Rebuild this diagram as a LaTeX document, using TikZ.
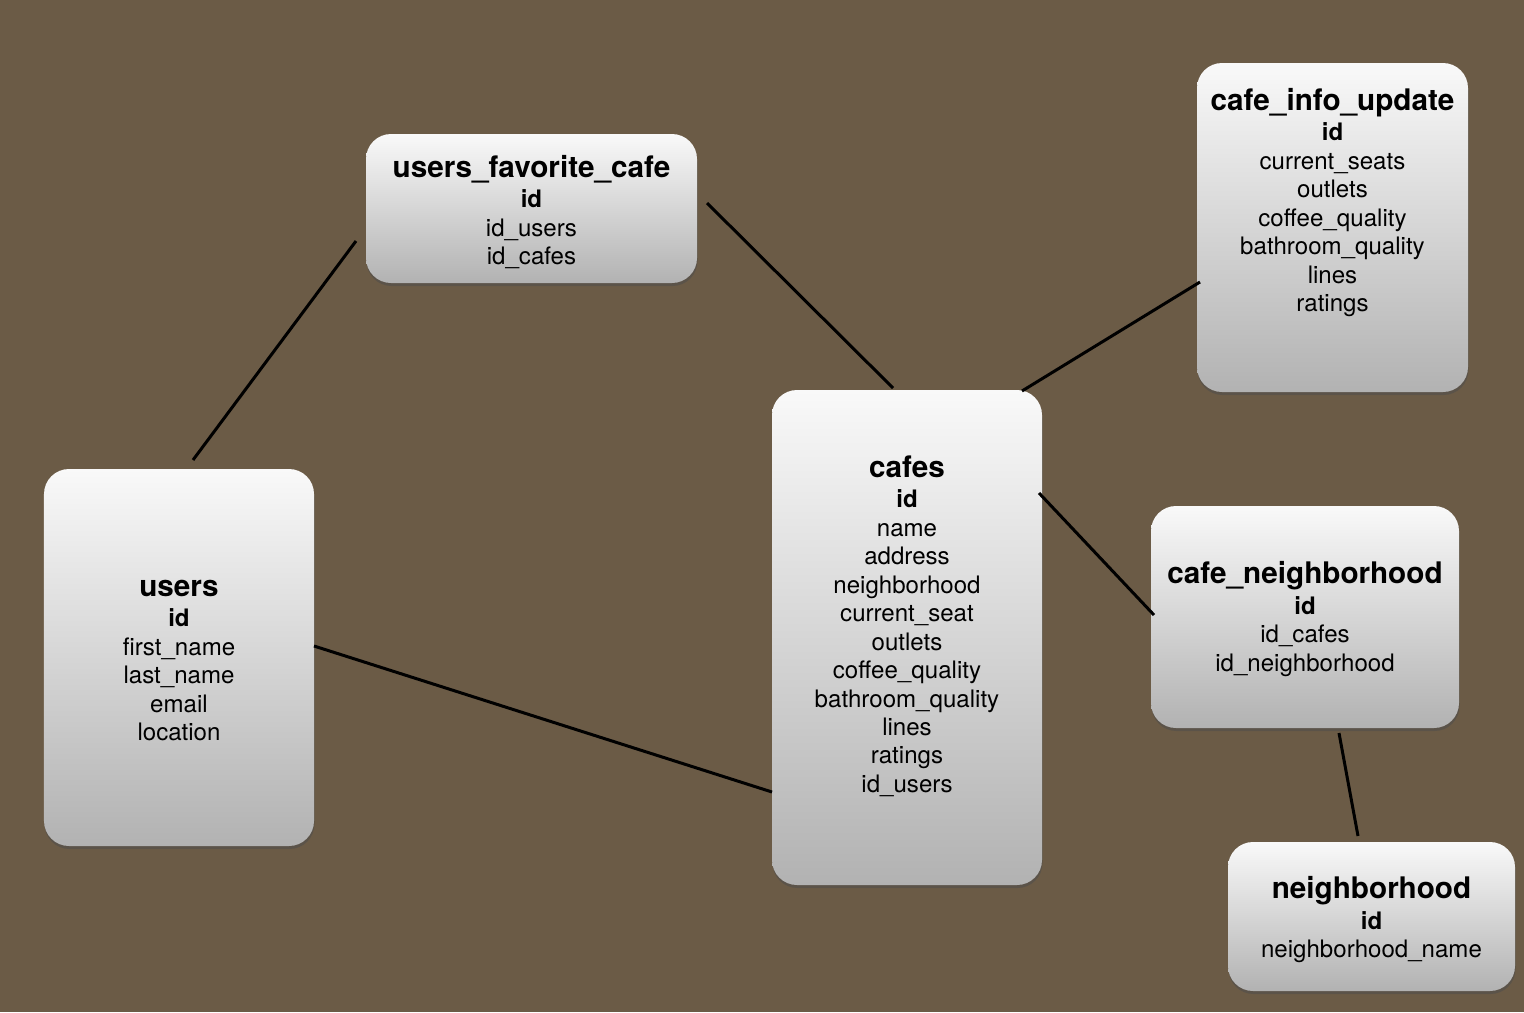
\documentclass[tikz,border=0pt]{standalone}
\usepackage{fontspec}
\setmainfont{TeX Gyre Heros}
\usepackage{tikz}
\usetikzlibrary{positioning,shadows}
\definecolor{bgbrown}{HTML}{6B5B46}
\definecolor{tabletop}{HTML}{F9F9F9}
\definecolor{tablebottom}{HTML}{B2B2B2}
\tikzset{
  tablebox/.style={rounded corners=0.25cm, inner sep=0, top color=tabletop, bottom color=tablebottom,
    drop shadow={shadow xshift=0.005cm, shadow yshift=-0.03cm, opacity=0.5, fill=black!70}},
  tablefields/.style={align=center, inner sep=0, font=\fontsize{6.85}{8.1}\selectfont},
  link/.style={line width=0.03cm, black}
}
\newcommand{\tabtitle}[1]{{\fontsize{8.45}{8.1}\selectfont\bfseries #1}}
\begin{document}
\begin{tikzpicture}
  \fill[bgbrown] (0,0) rectangle (15.24,10.12);
  \node[tablebox, minimum width=3.31cm, minimum height=1.49cm] (favorite) at (5.315,8.035) {};
  \node[tablefields, below=0.21cm of favorite.north] (favorite-fields)
    {\tabtitle{users\_favorite\_cafe}\\[0.6pt] \textbf{id}\\ id\_users\\ id\_cafes};
  \node[tablebox, minimum width=2.71cm, minimum height=3.29cm] (info) at (13.325,7.845) {};
  \node[tablefields, below=0.25cm of info.north] (info-fields)
    {\tabtitle{cafe\_info\_update}\\[0.6pt] \textbf{id}\\ current\_seats\\ outlets\\ coffee\_quality\\
     bathroom\_quality\\ lines\\ ratings};
  \node[tablebox, minimum width=2.70cm, minimum height=4.95cm] (cafes) at (9.07,3.745) {};
  \node[tablefields, below=0.655cm of cafes.north] (cafes-fields)
    {\tabtitle{cafes}\\[0.6pt] \textbf{id}\\ name\\ address\\ neighborhood\\ current\_seat\\ outlets\\
     coffee\_quality\\ bathroom\_quality\\ lines\\ ratings\\ id\_users};
  \node[tablebox, minimum width=2.70cm, minimum height=3.77cm] (users) at (1.79,3.545) {};
  \node[tablefields, below=1.11cm of users.north] (users-fields)
    {\tabtitle{users}\\[0.6pt] \textbf{id}\\ first\_name\\ last\_name\\ email\\ location};
  \node[tablebox, minimum width=3.08cm, minimum height=2.22cm] (cafenbhd) at (13.05,3.95) {};
  \node[tablefields, below=0.555cm of cafenbhd.north] (cafenbhd-fields)
    {\tabtitle{cafe\_neighborhood}\\[0.6pt] \textbf{id}\\ id\_cafes\\ id\_neighborhood};
  \node[tablebox, minimum width=2.87cm, minimum height=1.49cm] (nbhd) at (13.715,0.955) {};
  \node[tablefields, below=0.345cm of nbhd.north] (nbhd-fields)
    {\tabtitle{neighborhood}\\[0.6pt] \textbf{id}\\ neighborhood\_name};
  \coordinate (users-top) at (1.93,5.52);
  \coordinate (favorite-left) at (3.56,7.71);
  \coordinate (favorite-right) at (7.07,8.09);
  \coordinate (cafes-top) at (8.93,6.24);
  \coordinate (info-left) at (12.00,7.30);
  \coordinate (cafes-corner) at (10.22,6.21);
  \coordinate (cafes-right) at (10.39,5.19);
  \coordinate (cafenbhd-left) at (11.54,3.97);
  \coordinate (users-right) at (3.14,3.66);
  \coordinate (cafes-left) at (7.72,2.20);
  \coordinate (cafenbhd-bottom) at (13.39,2.79);
  \coordinate (nbhd-top) at (13.58,1.76);
  \draw[link] (users-top) -- (favorite-left);
  \draw[link] (favorite-right) -- (cafes-top);
  \draw[link] (info-left) -- (cafes-corner);
  \draw[link] (cafes-right) -- (cafenbhd-left);
  \draw[link] (users-right) -- (cafes-left);
  \draw[link] (cafenbhd-bottom) -- (nbhd-top);
\end{tikzpicture}
\end{document}
